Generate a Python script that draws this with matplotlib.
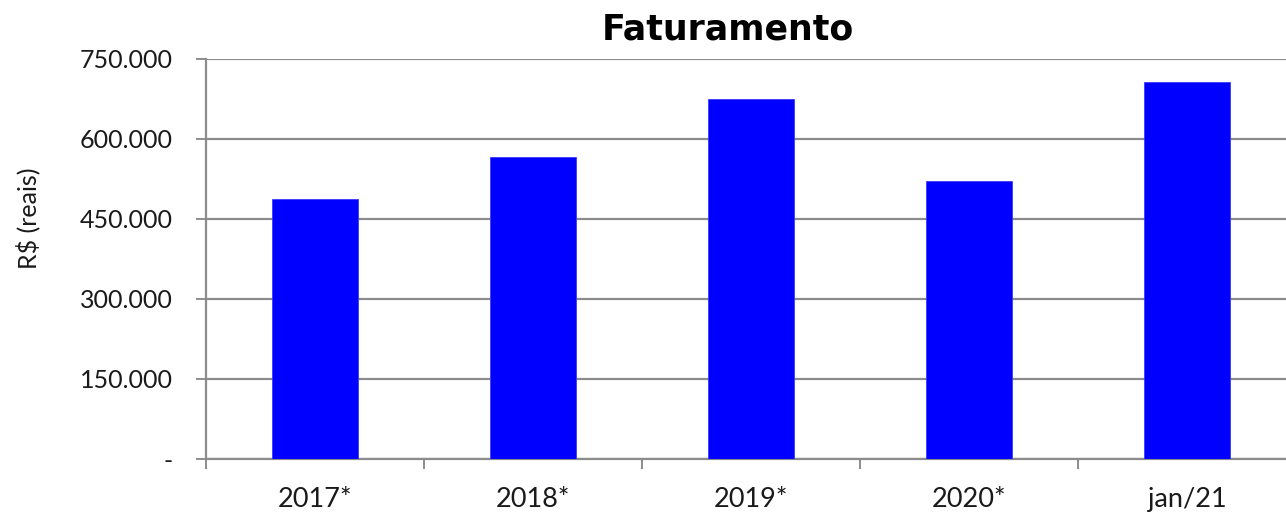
import numpy as np
import matplotlib
matplotlib.use("Agg")
import matplotlib.pyplot as plt

categories = ["2017*", "2018*", "2019*", "2020*", "jan/21"]
faturamento = [487500, 566000, 675500, 521500, 706000]
y_ticks = [0, 150000, 300000, 450000, 600000, 750000]
y_tick_labels = ["-", "150.000", "300.000", "450.000", "600.000", "750.000"]

plt.rcParams["font.family"] = ["Lato", "DejaVu Sans"]
plt.rcParams["text.color"] = "#1A1A1A"

grid_col = "#8C8C8C"

fig = plt.figure(figsize=(12.86, 5.13), dpi=100, facecolor="white")
ax = fig.add_axes([206 / 1286, 1 - 459 / 513, 1080 / 1286, 400 / 513])

x = np.arange(len(categories))
ax.bar(x, faturamento, width=0.395, color="#0000FF", edgecolor="#3A3AFF",
       linewidth=0.6, zorder=3)

ax.set_yticks(y_ticks)
ax.set_yticklabels(y_tick_labels, fontsize=18, color="#1A1A1A")
ax.yaxis.grid(True, color=grid_col, linewidth=1.6, zorder=0)
ax.tick_params(axis="y", direction="out", length=7, width=1.4, color=grid_col, pad=17)

# category boundaries as major ticks, labels on minor ticks at centres
ax.set_xticks(np.arange(len(categories) + 1) - 0.5)
ax.set_xticklabels([])
ax.set_xticks(x, minor=True)
ax.set_xticklabels(categories, minor=True, fontsize=19.5, color="#1A1A1A")
ax.tick_params(axis="x", which="major", direction="out", length=7, width=1.4, color=grid_col)
ax.tick_params(axis="x", which="minor", length=0, pad=20)

# limits after ticks (set_xticks widens the view); plot runs past the right edge
ax.set_ylim(0, 750000)
ax.set_xlim(-0.5, len(categories) - 0.5 - 10 / 218)

for side in ["top", "right"]:
    ax.spines[side].set_visible(False)
for side in ["left", "bottom"]:
    ax.spines[side].set_color(grid_col)
    ax.spines[side].set_linewidth(1.6)

fig.text(728 / 1286, 1 - 29 / 513, "Faturamento", fontsize=25, fontweight="bold",
         family="DejaVu Sans", ha="center", va="center", color="#000000")
fig.text(28 / 1286, 1 - 218 / 513, "R$ (reais)", fontsize=18, rotation=90,
         ha="center", va="center", color="#1A1A1A")

plt.savefig("out.png", dpi=100)
plt.close()
